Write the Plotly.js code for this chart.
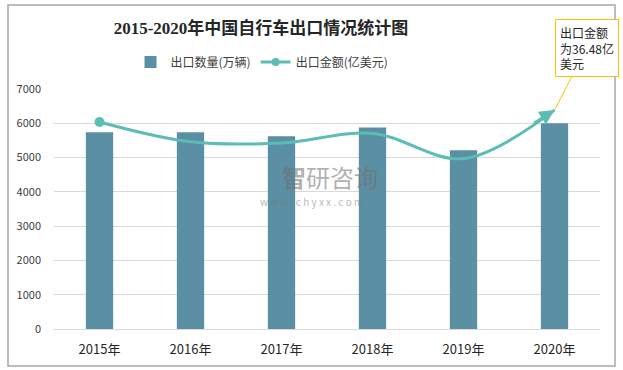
<!DOCTYPE html>
<html><head><meta charset="utf-8">
<script src="https://cdn.plot.ly/plotly-3.0.1.min.js"></script>
<style>html,body{margin:0;padding:0;background:#fff}#c{width:623px;height:370px}</style>
</head><body><div id="c"></div>
<script>
const years = ['2015年','2016年','2017年','2018年','2019年','2020年'];
const qty = [5740, 5740, 5620, 5880, 5210, 6000];          // 出口数量(万辆)
const value = [34.5, 31.2, 31.0, 32.6, 28.4, 36.48];       // 出口金额(亿美元)
const yTicks = [0,1000,2000,3000,4000,5000,6000,7000];

const barColor = '#5B8FA4', lineColor = '#5CBDB4';
const font = '"Microsoft YaHei","Noto Sans CJK SC",sans-serif';
const n = years.length;

const traces = [
  {type:'bar', x:years, y:qty, name:'出口数量(万辆)', marker:{color:barColor}, hoverinfo:'skip'},
  {type:'scatter', mode:'lines', x:years, y:value, yaxis:'y2', name:'出口金额(亿美元)',
   line:{color:lineColor, width:3, shape:'spline', smoothing:1}, showlegend:false},
  {type:'scatter', mode:'markers', x:[years[0]], y:[value[0]], yaxis:'y2', showlegend:false,
   marker:{color:lineColor, size:10, symbol:'circle'}},
  {type:'scatter', mode:'lines+markers', x:[null], y:[null], yaxis:'y2', name:'出口金额(亿美元)',
   line:{color:lineColor, width:3}, marker:{color:lineColor, size:8, symbol:'circle'}}
];

const layout = {
  width:623, height:370,
  margin:{l:54, r:23, t:89, b:41},
  paper_bgcolor:'#fff', plot_bgcolor:'#fff',
  font:{family:font, color:'#404040', size:12},
  title:{text:'<b>2015-2020年中国自行车出口情况统计图</b>', x:261/623, xanchor:'center', y:0.925, yanchor:'middle',
         font:{family:'"Liberation Serif","Noto Sans CJK SC",serif', size:17, color:'#262626'}},
  bargap:0.7,
  xaxis:{type:'category', range:[-0.5,5.5], showgrid:false, showline:true, linecolor:'#d9d9d9',
         ticks:'', tickfont:{size:13, color:'#262626'}, ticklabelstandoff:8, fixedrange:true},
  yaxis:{range:[0,7000], tickvals:yTicks, showgrid:true, gridcolor:'#d9d9d9', gridwidth:1,
         zeroline:false, showline:false, ticks:'', tickfont:{size:11, color:'#404040'}, ticklabelstandoff:12},
  yaxis2:{overlaying:'y', side:'right', range:[0,40], visible:false},
  legend:{orientation:'h', x:(262-54)/546, xanchor:'center', y:(329-62)/240, yanchor:'middle',
          font:{size:12, color:'#404040'}, itemwidth:30},
  annotations:[
    {x:years[n-1], y:value[n-1], xref:'x', yref:'y2', text:'', showarrow:true,
     arrowhead:2, arrowsize:1, arrowwidth:3, arrowcolor:lineColor, ax:-22, ay:14, standoff:0},
    {x:years[n-1], y:value[n-1], xref:'x', yref:'y2', text:'出口金额<br>为36.48亿<br>美元', align:'left',
     showarrow:true, arrowhead:0, arrowcolor:'#FFC000', arrowwidth:1, ax:32, ay:-62,
     bordercolor:'#FFC000', borderwidth:1, borderpad:4, bgcolor:'#fff',
     font:{size:12, color:'#262626'}},
    {xref:'paper', yref:'paper', x:(330-54)/546, y:(329-176)/240, text:'<b>智</b>研咨询', showarrow:false,
     font:{size:24, color:'rgba(110,110,110,0.55)'}},
    {xref:'paper', yref:'paper', x:(311-54)/546, y:(329-201)/240, text:'w w w . c h y x x . c o m', showarrow:false,
     font:{size:10, color:'rgba(120,120,120,0.55)'}}
  ],
  shapes:[
    {type:'rect', xref:'paper', yref:'paper', x0:(8-54)/546, x1:(615-54)/546, y0:(329-366)/240, y1:(329-5)/240,
     line:{color:'#a6a6a6', width:1.5}, fillcolor:'rgba(0,0,0,0)', layer:'below'}
  ]
};
Plotly.newPlot('c', traces, layout, {displayModeBar:false, staticPlot:true});
</script></body></html>
